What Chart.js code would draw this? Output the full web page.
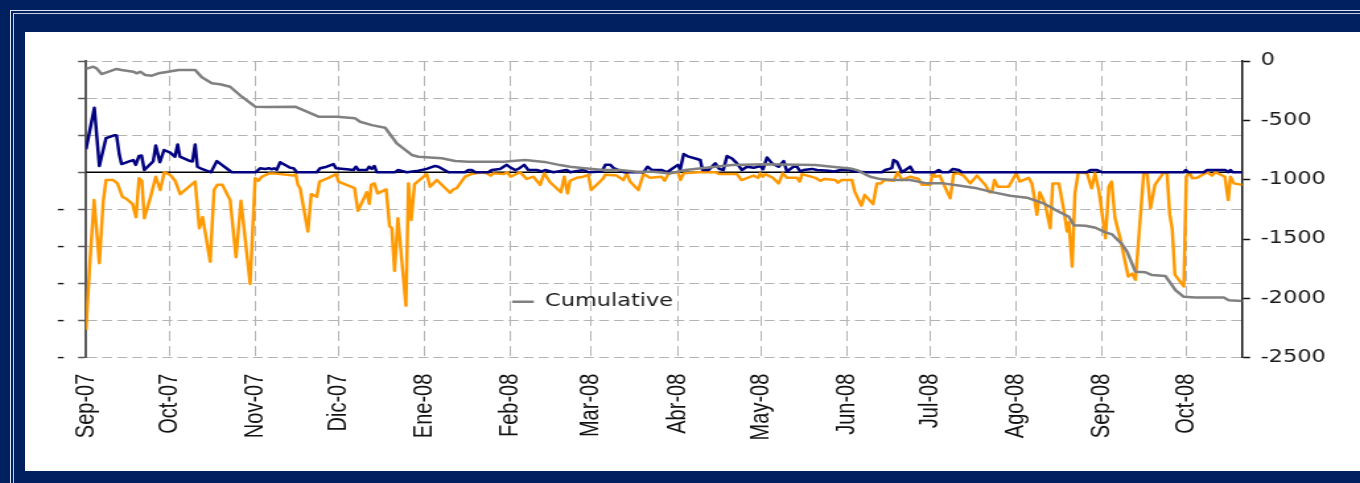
<!DOCTYPE html>
<html><head><meta charset="utf-8">
<script src="https://cdn.jsdelivr.net/npm/chart.js@4.4.1/dist/chart.umd.min.js"></script>
<style>
html,body{margin:0;padding:0;background:#002060;width:1360px;height:483px;overflow:hidden;position:relative}
.ln1{position:absolute;left:10px;top:10px;right:-5px;bottom:-5px;border-top:1px solid #dfe5ef;border-left:1px solid #dfe5ef}
.ln2{position:absolute;left:13px;top:13px;right:-5px;bottom:-5px;border-top:1px solid #c5cfe0;border-left:1px solid #c5cfe0}
#panel{position:absolute;left:25px;top:32px;width:1335px;height:439px;background:#fff;overflow:hidden}
#wrap{position:absolute;left:0;top:0;width:1011px;height:439px;transform:scaleX(1.3205);transform-origin:0 0}
</style></head><body>
<div class="ln1"></div><div class="ln2"></div>
<div id="panel"><div id="wrap"><canvas id="c" width="1011" height="439"></canvas></div></div>
<script>
// Month ticks (days since 1 Sep 2007) and labels
const monthDays = [0,30,61,91,122,153,182,213,243,274,304,335,366,396];
const monthLabels = ['Sep-07','Oct-07','Nov-07','Dic-07','Ene-08','Feb-08','Mar-08','Abr-08','May-08','Jun-08','Jul-08','Ago-08','Sep-08','Oct-08'];
const leftTicks = [300,200,100,0,-100,-200,-300,-400,-500];
const rightTicks = [0,-500,-1000,-1500,-2000,-2500];

// Navy series (left axis)
const navyDays = [0,3.0,4.8,7.2,10.4,11.0,12.0,12.8,15.8,17.0,17.9,19.1,20.0,21.0,24.2,25.1,26.6,28.1,30.3,32.0,33.0,33.8,37.5,38.3,39.3,40.1,41.7,45.0,47.1,52.5,61.1,62.7,64.5,65.9,66.9,67.7,68.7,69.9,73.5,74.7,75.9,83.1,84.3,86.7,89.1,90.0,93.9,96.3,97.2,98.1,101.1,101.9,102.9,103.8,104.7,111.3,112.3,115.5,119.7,122.7,125.7,126.9,130.5,136.5,137.7,138.9,140.1,144.9,146.1,149.1,151.5,153.0,154.5,155.7,157.8,159.3,162.3,164.1,165.3,168.3,173.1,174.3,179.1,181.0,185.8,187.0,188.8,190.0,191.8,193.6,200.8,202.2,203.8,207.4,209.2,210.4,213.1,214.0,215.2,217.0,219.4,221.2,222.0,224.2,226.6,228.0,229.5,230.8,232.6,234.4,236.2,238.0,240.4,242.8,243.8,245.2,247.0,249.4,251.2,252.4,254.8,256.0,257.2,258.4,261.4,263.2,267.4,269.5,271.6,274.6,277.0,280.6,286.6,287.8,290.2,290.8,292.0,293.8,296.8,298.0,305.8,307.0,308.2,310.6,312.2,314.2,315.4,360.5,361.7,364.1,365.9,395.3,396.0,396.9,402.5,403.7,410.3,411.3,412.1,412.9,416.3];
const navyVals = [62,174,17,92,100,99,47,22,30,33,20,44,45,6,30,72,27,60,53,42,75,42,30,29,75,15,9,0,30,0,0,11,9,11,8,11,7,27,12,11,0,0,11,15,22,11,8,6,15,6,6,15,9,17,0,0,6,0,4,9,17,15,0,0,6,6,0,0,6,9,20,12,6,9,20,6,6,2,6,0,6,0,6,0,2,20,20,11,6,0,0,15,6,6,0,6,20,9,49,42,37,33,6,6,24,9,6,44,37,24,6,15,12,17,8,40,24,15,30,2,15,15,2,6,9,6,4,2,6,6,2,0,0,6,11,33,28,0,15,0,0,6,0,0,9,6,0,0,6,6,0,0,6,0,0,6,6,0,6,0,0];

// Orange series (left axis)
const orangeDays = [0,1.4,2.9,4.8,6.2,7.2,9.8,11.3,13.1,14.6,16.8,18.0,19.1,20.1,21.0,23.1,25.1,26.7,28.2,30.3,32.1,33.9,39.3,40.8,42.0,44.7,46.1,47.3,49.1,51.9,54.0,55.8,59.1,60.9,62.1,63.3,66.0,67.5,74.7,75.5,76.3,77.1,79.9,81.1,83.1,84.1,87.3,90.1,90.9,96.7,97.9,101.1,102.0,102.7,103.8,105.0,108.1,109.3,110.1,111.1,112.3,115.2,116.1,117.1,118.3,122.7,123.9,126.3,131.1,132.3,133.5,136.5,138.7,142.5,144.3,145.7,146.7,150.3,151.7,152.9,156.3,158.7,161.1,163.5,165.0,167.1,171.0,172.2,173.4,174.3,176.7,179.1,180.9,181.9,185.1,186.3,186.9,191.1,193.5,194.7,195.9,198.9,200.7,203.1,207.3,208.3,209.8,213.2,214.0,215.2,220.6,226.6,228.1,234.4,236.0,240.4,242.0,242.8,243.7,244.6,247.3,249.4,250.9,252.4,256.0,257.0,257.8,262.6,264.4,266.0,269.8,270.8,272.0,275.8,276.8,279.2,280.4,283.4,284.8,286.2,287.4,290.8,292.3,293.8,296.8,299.8,301.0,304.0,304.9,305.8,307.4,311.2,312.4,314.2,316.0,318.4,320.8,323.8,325.3,326.2,327.1,328.3,332.2,335.0,336.2,339.4,340.6,341.5,342.4,343.4,345.4,347.2,348.1,350.3,352.1,353.3,353.9,355.1,356.1,357.3,360.5,362.1,363.3,364.7,367.1,368.3,369.3,370.5,372.5,375.3,376.7,377.9,380.9,382.1,383.3,384.9,388.1,389.3,390.2,391.1,392.1,395.3,396.2,397.4,398.3,400.1,403.7,405.5,406.7,410.1,411.3,412.1,413.3,416.3];
const orangeVals = [-425,-241,-75,-245,-79,-21,-21,-30,-66,-72,-86,-121,-16,-23,-124,-70,-12,-48,0,-7,-23,-59,-25,-151,-121,-241,-48,-34,-34,-75,-229,-77,-301,-16,-23,-12,-3,-3,-9,-5,-34,-43,-160,-59,-66,-25,-15,-5,-25,-43,-104,-54,-85,-34,-30,-57,-46,-145,-151,-266,-124,-360,-30,-129,-32,-5,-39,-21,-55,-46,-43,-12,-5,0,-3,-9,-3,-5,0,-12,0,-18,-12,-34,-3,-27,-54,-12,-57,-23,-15,-12,-7,-48,-25,-16,-7,-9,-21,-3,-25,-48,-5,-15,-12,-23,-3,0,-21,-3,0,0,-5,-5,-21,-9,-15,-3,-12,-5,-15,-30,-3,-15,-15,-25,-5,-15,-23,-18,-21,-28,-21,-21,-52,-90,-61,-86,-30,-30,-21,-23,0,-21,-12,-18,-34,-34,0,-12,-9,-70,-5,-3,-9,-30,-9,-34,-54,-54,-21,-39,-39,-3,-25,-15,-30,-70,-115,-54,-86,-151,-30,-30,-102,-160,-135,-254,-57,0,-3,-43,-3,-48,-178,-39,-25,-122,-182,-281,-273,-290,0,-3,-97,-34,0,-3,-113,-151,-276,-308,-12,0,-16,-15,0,-9,0,-12,-75,-12,-30,-34];

// Cumulative series (right axis)
const cumDays = [0,2.6,3.8,5.6,11.0,12.8,17.0,18.3,19.5,21.3,23.7,26.1,28.5,33.3,39.3,41.7,45.3,48.3,51.9,56.1,60.9,65.1,75.3,83.7,90.3,96.9,98.7,102.9,107.7,111.9,117.3,119.7,128.1,132.9,137.7,150.3,158.1,165.9,170.7,174.3,180.3,186.3,192.3,198.3,204.3,210.3,215.8,226.6,232.6,244.6,262.6,268.6,275.2,277.6,280.6,282.4,286.0,290.8,296.8,302.8,308.8,314.8,320.8,326.8,332.8,338.8,344.8,347.8,349.1,353.9,355.7,359.9,363.5,367.1,369.5,373.1,374.9,377.9,381.5,383.9,388.7,392.3,395.3,399.5,409.7,411.5,416.3];
const cumVals = [-67,-48,-62,-110,-67,-76,-90,-104,-90,-118,-124,-104,-95,-76,-76,-137,-188,-196,-217,-301,-385,-388,-385,-469,-469,-483,-512,-540,-562,-694,-792,-807,-820,-843,-849,-849,-835,-854,-877,-891,-905,-919,-919,-933,-933,-947,-919,-891,-877,-871,-877,-891,-905,-919,-955,-975,-995,-1003,-1003,-1031,-1031,-1051,-1073,-1107,-1136,-1152,-1200,-1237,-1256,-1313,-1383,-1388,-1405,-1444,-1461,-1545,-1608,-1776,-1781,-1804,-1812,-1930,-1987,-1992,-1992,-2015,-2023];

const X_MAX = 416.3;
const pts = (d, v) => d.map((x, i) => ({x: x, y: v[i]}));

const legendPos = {
  id: 'legendPos',
  afterLayout(chart) {
    const L = chart.legend; if (!L) return;
    const w = L.width, h = L.height;
    L.left = 358.9; L.top = 251.2; L.right = L.left + w; L.bottom = L.top + h;
  }
};

const FONT_AX = {family: 'DejaVu Sans', size: 17};
const GRID = '#b4b4b4';
new Chart(document.getElementById('c'), {
  type: 'line',
  data: {
    datasets: [
      {label: 'Cumulative', data: pts(cumDays, cumVals), yAxisID: 'y2', borderColor: '#808080', backgroundColor: '#808080', borderWidth: 2.5, order: 0},
      {label: 'Gains', data: pts(navyDays, navyVals), yAxisID: 'y', borderColor: '#000080', backgroundColor: '#000080', borderWidth: 2.5, order: 1},
      {label: 'Losses', data: pts(orangeDays, orangeVals), yAxisID: 'y', borderColor: '#FF9900', backgroundColor: '#FF9900', borderWidth: 2.5, order: 2},
      {label: 'zero', data: [{x: 0, y: 0}, {x: X_MAX, y: 0}], yAxisID: 'y', borderColor: '#000000', borderWidth: 1.3, order: 3}
    ]
  },
  options: {
    responsive: false, animation: false, devicePixelRatio: 1,
    layout: {padding: {top: 29, left: 0, right: 0, bottom: 0}},
    elements: {point: {radius: 0, hoverRadius: 0}, line: {tension: 0, borderJoinStyle: 'round'}},
    plugins: {
      tooltip: {enabled: false},
      legend: {
        position: 'chartArea', align: 'start',
        labels: {
          filter: (it) => it.text === 'Cumulative',
          usePointStyle: true, pointStyle: 'line', pointStyleWidth: 16.4,
          font: FONT_AX, color: '#1a1a1a', padding: 10
        }
      }
    },
    scales: {
      x: {
        type: 'linear', min: 0, max: X_MAX,
        afterBuildTicks: (s) => { s.ticks = monthDays.map(v => ({value: v})); },
        afterFit: (s) => { s.height = 113.3; },
        ticks: {autoSkip: false, minRotation: 90, maxRotation: 90, padding: 16,
          font: {family: 'Liberation Sans', size: 20}, color: '#111',
          callback: (v, i) => monthLabels[i]},
        grid: {color: GRID, lineWidth: 1, drawTicks: false},
        border: {display: false, dash: [10, 5]}
      },
      y: {
        position: 'left', min: -500, max: 300,
        afterBuildTicks: (s) => { s.ticks = leftTicks.map(v => ({value: v})); },
        afterFit: (s) => { s.width = 46.2; },
        ticks: {callback: (v) => v < 0 ? '-' : '', font: FONT_AX, color: '#1a1a1a', padding: 10},
        grid: {color: GRID, lineWidth: 1,
          tickColor: '#595959', tickLength: 6, tickWidth: 1.5},
        border: {display: true, color: '#595959', width: 2, dash: [7.6, 3.8]}
      },
      y2: {
        position: 'right', min: -2500, max: 0,
        afterBuildTicks: (s) => { s.ticks = rightTicks.map(v => ({value: v})); },
        afterFit: (s) => { s.width = 89.3; },
        ticks: {font: FONT_AX, color: '#1a1a1a', padding: 8, callback: (v) => String(v)},
        grid: {drawOnChartArea: false, tickColor: '#111', tickLength: 6, tickWidth: 1.5},
        border: {display: true, color: '#111', width: 1.5}
      }
    }
  },
  plugins: [legendPos]
});
</script>
</body></html>
